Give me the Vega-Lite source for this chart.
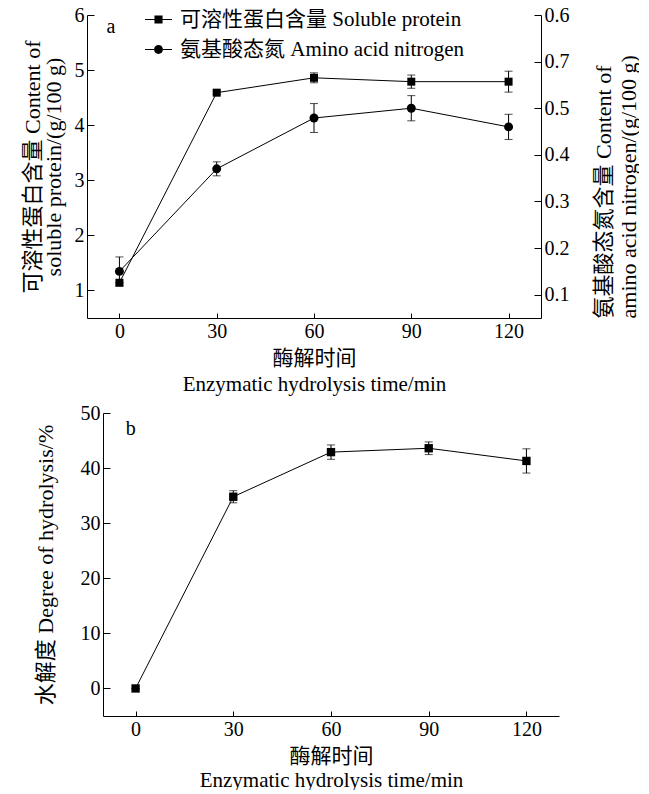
{
  "$schema": "https://vega.github.io/schema/vega-lite/v6.json",
  "padding": {"left": 21, "top": 5, "right": 0, "bottom": 0},
  "background": "white",
  "config": {
    "font": "Liberation Serif, Noto Sans CJK SC",
    "view": {"stroke": null},
    "axis": {
      "grid": false, "domainColor": "black", "tickColor": "black", "labelColor": "black", "titleColor": "black",
      "labelFontSize": 20, "titleFontSize": 22, "titleFontWeight": "normal",
      "labelFont": "Liberation Serif, Noto Sans CJK SC", "titleFont": "Liberation Serif, Noto Sans CJK SC",
      "tickSize": -7, "labelPadding": 10, "domainWidth": 1, "tickWidth": 1
    },
    "axisX": {"tickSize": -5, "labelPadding": 8, "titlePadding": 6, "titleFontSize": 21}
  },
  "datasets": {
    "soluble": [
      {"time": 0, "value": 1.14, "sd": 0},
      {"time": 30, "value": 4.59, "sd": 0.03},
      {"time": 60, "value": 4.86, "sd": 0.09},
      {"time": 90, "value": 4.79, "sd": 0.12},
      {"time": 120, "value": 4.79, "sd": 0.19}
    ],
    "amino": [
      {"time": 0, "value": 0.15, "sd": 0.031},
      {"time": 30, "value": 0.37, "sd": 0.015},
      {"time": 60, "value": 0.479, "sd": 0.031},
      {"time": 90, "value": 0.5, "sd": 0.027},
      {"time": 120, "value": 0.46, "sd": 0.027}
    ],
    "dh": [
      {"time": 0, "value": 0, "sd": 0},
      {"time": 30, "value": 34.8, "sd": 1.1},
      {"time": 60, "value": 42.9, "sd": 1.3},
      {"time": 90, "value": 43.6, "sd": 1.15},
      {"time": 120, "value": 41.3, "sd": 2.2}
    ],
    "legend": [
      {"series": "可溶性蛋白含量 Soluble protein"},
      {"series": "氨基酸态氮 Amino acid nitrogen"}
    ]
  },
  "vconcat": [
    {
      "width": 438,
      "height": 303,
      "layer": [
        {
          "layer": [
            {
              "data": {"name": "soluble"},
              "encoding": {
                "x": {"field": "time", "type": "quantitative", "scale": {"domain": [-10, 130], "range": [-16, 438], "nice": false, "zero": false},
                      "axis": {"values": [0, 30, 60, 90, 120], "format": "d", "title": ["酶解时间", "Enzymatic hydrolysis time/min"], "titleLineHeight": 26}},
                "y": {"field": "value", "type": "quantitative", "scale": {"domain": [0.5, 6], "nice": false, "zero": false},
                      "axis": {"orient": "left", "offset": 16, "values": [1, 2, 3, 4, 5, 6], "format": "d", "title": ["可溶性蛋白含量 Content of", "soluble protein/(g/100 g)"], "titleLineHeight": 21, "titlePadding": 9}}
              },
              "layer": [
                {"mark": {"type": "line", "color": "black", "strokeWidth": 1}},
                {"mark": {"type": "errorbar", "color": "black", "ticks": {"size": 8}}, "encoding": {"yError": {"field": "sd"}}},
                {"mark": {"type": "point", "shape": "square", "filled": true, "color": "black", "size": 64, "opacity": 1}}
              ]
            },
            {
              "data": {"values": [{"panel": "a"}]},
              "mark": {"type": "text", "text": "a", "fontSize": 20, "font": "Liberation Serif", "color": "black", "align": "center", "baseline": "middle"},
              "encoding": {
                "x": {"datum": -2.6, "type": "quantitative"},
                "y": {"datum": 5.78, "type": "quantitative"}
              }
            }
          ]
        },
        {
          "data": {"name": "amino"},
          "encoding": {
            "x": {"field": "time", "type": "quantitative"},
            "y": {"field": "value", "type": "quantitative", "scale": {"domain": [0.05, 0.7], "nice": false, "zero": false},
                  "axis": {"orient": "right", "values": [0.1, 0.2, 0.3, 0.4, 0.5, 0.6, 0.7],
                           "labelExpr": "datum.value > 0.65 ? '0.6' : (datum.value > 0.55 ? '0.7' : format(datum.value, '.1f'))",
                           "title": ["氨基酸态氮含量 Content of", "amino acid nitrogen/(g/100 g)"], "titleAngle": -90,
                           "titleAnchor": "start", "titleAlign": "left", "titleBaseline": "bottom", "titleLineHeight": 25, "titlePadding": 21}}
          },
          "layer": [
            {"mark": {"type": "line", "color": "black", "strokeWidth": 1}},
            {"mark": {"type": "errorbar", "color": "black", "ticks": {"size": 8}}, "encoding": {"yError": {"field": "sd"}}},
            {"mark": {"type": "point", "shape": "circle", "filled": true, "color": "black", "size": 80, "opacity": 1}}
          ]
        },
        {
          "data": {"name": "legend"},
          "mark": {"type": "point", "filled": true, "color": "black", "opacity": 0},
          "encoding": {
            "shape": {"field": "series", "type": "nominal",
                      "scale": {"domain": ["可溶性蛋白含量 Soluble protein", "氨基酸态氮 Amino acid nitrogen"],
                                "range": ["M-1,-0.04H-0.3V0.04H-1ZM0.3,-0.04H1V0.04H0.3ZM-0.3,-0.3H0.3V0.3H-0.3Z",
                                          "M-1,-0.04H-0.33V0.04H-1ZM0.33,-0.04H1V0.04H0.33ZM0.33,0A0.33,0.33 0 1,1 -0.33,0A0.33,0.33 0 1,1 0.33,0Z"]},
                      "legend": {"orient": "none", "legendX": 41, "legendY": -10, "title": null,
                                 "labelFontSize": 21, "labelFont": "Liberation Serif, Noto Sans CJK SC", "labelColor": "black", "labelLimit": 0,
                                 "symbolSize": 729, "labelOffset": 7, "rowPadding": 5, "padding": 0,
                                 "symbolFillColor": "black", "symbolOpacity": 1,
                                 "encode": {"symbols": {"update": {"fill": {"value": "black"}, "opacity": {"value": 1}}}}}}
          }
        }
      ],
      "resolve": {"scale": {"y": "independent"}}
    },
    {
      "width": 456,
      "height": 303,
      "layer": [
        {
          "data": {"name": "dh"},
          "encoding": {
            "x": {"field": "time", "type": "quantitative", "scale": {"domain": [-10, 130], "nice": false, "zero": false},
                  "axis": {"values": [0, 30, 60, 90, 120], "format": "d", "title": ["酶解时间", "Enzymatic hydrolysis time/min"], "titleLineHeight": 24}},
            "y": {"field": "value", "type": "quantitative", "scale": {"domain": [-5, 50], "nice": false, "zero": false},
                  "axis": {"values": [0, 10, 20, 30, 40, 50], "format": "d", "title": "水解度 Degree of hydrolysis/%", "titlePadding": 23}}
          },
          "layer": [
            {"mark": {"type": "line", "color": "black", "strokeWidth": 1}},
            {"mark": {"type": "errorbar", "color": "black", "ticks": {"size": 8}}, "encoding": {"yError": {"field": "sd"}}},
            {"mark": {"type": "point", "shape": "square", "filled": true, "color": "black", "size": 70, "opacity": 1}}
          ]
        },
        {
          "data": {"values": [{"panel": "b"}]},
          "mark": {"type": "text", "text": "b", "fontSize": 20, "font": "Liberation Serif", "color": "black", "align": "center", "baseline": "middle"},
          "encoding": {
            "x": {"datum": -1.5, "type": "quantitative"},
            "y": {"datum": 47.1, "type": "quantitative"}
          }
        }
      ]
    }
  ],
  "spacing": 9
}
